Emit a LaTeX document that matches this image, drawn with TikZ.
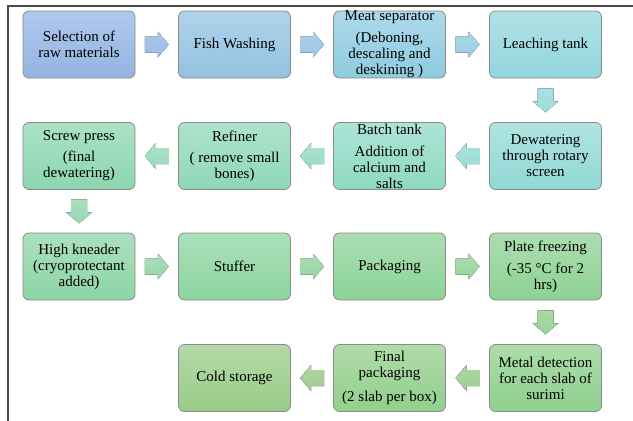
\documentclass[tikz,border=0pt]{standalone}
\usepackage{fontspec}
\setmainfont{Liberation Serif}
\usetikzlibrary{calc}
\definecolor{boxline}{HTML}{8A8A8A}
\definecolor{frameline}{HTML}{4A4A4A}
% box colours (top / bottom)
\definecolor{selT}{HTML}{B0C8EC}\definecolor{selB}{HTML}{93B4E2}
\definecolor{washT}{HTML}{B0D3EA}\definecolor{washB}{HTML}{92C2E0}
\definecolor{meatT}{HTML}{ADD9EA}\definecolor{meatB}{HTML}{8ECBDF}
\definecolor{leachT}{HTML}{B0E2E6}\definecolor{leachB}{HTML}{92D6DC}
\definecolor{dewT}{HTML}{B0E4E2}\definecolor{dewB}{HTML}{90D8D4}
\definecolor{batchT}{HTML}{ADE4D5}\definecolor{batchB}{HTML}{8ED9C2}
\definecolor{refT}{HTML}{ADE3CC}\definecolor{refB}{HTML}{8ED8B6}
\definecolor{screwT}{HTML}{AAE2C6}\definecolor{screwB}{HTML}{8CD6AE}
\definecolor{kneadT}{HTML}{ABE0BE}\definecolor{kneadB}{HTML}{8DD5A5}
\definecolor{stuffT}{HTML}{ABDFB9}\definecolor{stuffB}{HTML}{8CD49F}
\definecolor{packT}{HTML}{ABDEB3}\definecolor{packB}{HTML}{8CD399}
\definecolor{plateT}{HTML}{ACDDB0}\definecolor{plateB}{HTML}{8DD295}
\definecolor{metalT}{HTML}{ADDCAB}\definecolor{metalB}{HTML}{8FD08F}
\definecolor{finalT}{HTML}{B0DBA9}\definecolor{finalB}{HTML}{92CF8C}
\definecolor{coldT}{HTML}{B4D9A6}\definecolor{coldB}{HTML}{98CC88}
% arrow colours
\definecolor{a1T}{HTML}{ADC6EB}\definecolor{a1B}{HTML}{9DBCE6}
\definecolor{a2T}{HTML}{ADCFEA}\definecolor{a2B}{HTML}{9DC6E4}
\definecolor{a3T}{HTML}{AAD7E8}\definecolor{a3B}{HTML}{9ACDE2}
\definecolor{a4T}{HTML}{AAE2E4}\definecolor{a4B}{HTML}{9ADBDC}
\definecolor{a5T}{HTML}{AAE3DC}\definecolor{a5B}{HTML}{9ADCD0}
\definecolor{a6T}{HTML}{AAE3D2}\definecolor{a6B}{HTML}{9ADBC4}
\definecolor{a7T}{HTML}{A9E2CA}\definecolor{a7B}{HTML}{99DABA}
\definecolor{a8T}{HTML}{A8DFC0}\definecolor{a8B}{HTML}{98D8B0}
\definecolor{a9T}{HTML}{A9DEB8}\definecolor{a9B}{HTML}{99D6A8}
\definecolor{a10T}{HTML}{A9DDB2}\definecolor{a10B}{HTML}{99D5A2}
\definecolor{a11T}{HTML}{A9DCAC}\definecolor{a11B}{HTML}{99D49C}
\definecolor{a12T}{HTML}{A9DAA6}\definecolor{a12B}{HTML}{99D196}
\definecolor{a13T}{HTML}{ACD8A4}\definecolor{a13B}{HTML}{9CCF94}
\definecolor{a14T}{HTML}{AFD6A0}\definecolor{a14B}{HTML}{9FCC90}
\tikzset{
  stepbox/.style={draw=boxline, line width=0.8pt, rounded corners=6pt,
    minimum width=112pt, minimum height=67pt, inner sep=0pt, align=center,
    font=\rmfamily\fontsize{15}{16}\selectfont, text=black},
  vshade/.style={top color=#1T, bottom color=#1B},
}
% block arrows drawn between two named anchors
\newcommand\rightblock[3]{%
  \path ($(#1)!0.5!(#2)$) coordinate (m);
  \fill[vshade=#3] ([shift={(-12,-8)}]m) -- ([shift={(1,-8)}]m) -- ([shift={(1,-13)}]m)
    -- ([shift={(12,0)}]m) -- ([shift={(1,13)}]m) -- ([shift={(1,8)}]m)
    -- ([shift={(-12,8)}]m) -- cycle;}
\newcommand\leftblock[3]{%
  \path ($(#1)!0.5!(#2)$) coordinate (m);
  \fill[vshade=#3] ([shift={(12,-8)}]m) -- ([shift={(-1,-8)}]m) -- ([shift={(-1,-13)}]m)
    -- ([shift={(-12,0)}]m) -- ([shift={(-1,13)}]m) -- ([shift={(-1,8)}]m)
    -- ([shift={(12,8)}]m) -- cycle;}
\newcommand\downblock[3]{%
  \path ($(#1)!0.5!(#2)$) coordinate (m);
  \fill[vshade=#3] ([shift={(-8,-12)}]m) -- ([shift={(-8,1)}]m) -- ([shift={(-13,1)}]m)
    -- ([shift={(0,12)}]m) -- ([shift={(13,1)}]m) -- ([shift={(8,1)}]m)
    -- ([shift={(8,-12)}]m) -- cycle;}
\begin{document}
\begin{tikzpicture}[x=1pt, y=-1pt]
\useasboundingbox (0,0) rectangle (633,421);
\draw[frameline, line width=1.3pt] (8,421) -- (8,6) -- (633,6);

% row 1
\node[stepbox, vshade=sel] (sel) at (79,44.5) {Selection of\\raw materials};
\node[stepbox, vshade=wash] (wash) at (234.5,44.5) {Fish Washing};
\node[stepbox, vshade=meat] (meat) at (389.5,44.5) {Meat separator\\[6pt](Deboning,\\descaling and\\deskining )};
\node[stepbox, vshade=leach] (leach) at (545.5,44.5) {Leaching tank};
% row 2
\node[stepbox, vshade=dew] (dew) at (545.5,156) {Dewatering\\through rotary\\screen};
\node[stepbox, vshade=batch] (batch) at (389.5,156) {Batch tank\\[6pt]Addition of\\calcium and\\salts};
\node[stepbox, vshade=ref] (ref) at (234.5,156) {Refiner\\[5pt]( remove small\\bones)};
\node[stepbox, vshade=screw] (screw) at (79,156) {Screw press\\[5pt](final\\dewatering)};
% row 3
\node[stepbox, vshade=knead] (knead) at (79,266.5) {High kneader\\(cryoprotectant\\added)};
\node[stepbox, vshade=stuff] (stuff) at (234.5,266.5) {Stuffer};
\node[stepbox, vshade=pack] (pack) at (389.5,266.5) {Packaging};
\node[stepbox, vshade=plate] (plate) at (545.5,266.5) {Plate freezing\\[6pt](-35 °C for 2\\hrs)};
% row 4
\node[stepbox, vshade=metal] (metal) at (545.5,378) {Metal detection\\for each slab of\\surimi};
\node[stepbox, vshade=final] (final) at (389.5,378) {Final\\packaging\\[8pt](2 slab per box)};
\node[stepbox, vshade=cold] (cold) at (234.5,378) {Cold storage};

% arrows
\rightblock{sel.east}{wash.west}{a1}
\rightblock{wash.east}{meat.west}{a2}
\rightblock{meat.east}{leach.west}{a3}
\downblock{leach.south}{dew.north}{a4}
\leftblock{dew.west}{batch.east}{a5}
\leftblock{batch.west}{ref.east}{a6}
\leftblock{ref.west}{screw.east}{a7}
\downblock{screw.south}{knead.north}{a8}
\rightblock{knead.east}{stuff.west}{a9}
\rightblock{stuff.east}{pack.west}{a10}
\rightblock{pack.east}{plate.west}{a11}
\downblock{plate.south}{metal.north}{a12}
\leftblock{metal.west}{final.east}{a13}
\leftblock{final.west}{cold.east}{a14}
\end{tikzpicture}
\end{document}
